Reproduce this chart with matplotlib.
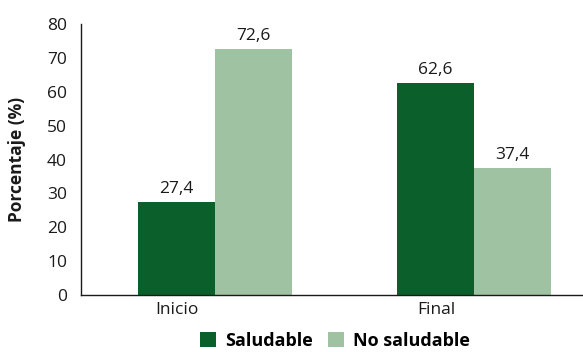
import matplotlib
matplotlib.use("Agg")
import matplotlib.pyplot as plt
import matplotlib.transforms as mtransforms
import numpy as np

categories = ["Inicio", "Final"]
series_names = ["Saludable", "No saludable"]
saludable = [27.4, 62.6]
no_saludable = [72.6, 37.4]
colors = ["#0a5f2a", "#9fc2a2"]

plt.rcParams['font.family'] = ['Open Sans', 'DejaVu Sans']

fig = plt.figure(figsize=(5.83, 3.52), dpi=100)
ax = fig.add_axes([81/583, 1-295/352, (583-81)/583, (295-24)/352])

x = np.arange(len(categories))
w = 0.297
b1 = ax.bar(x - w/2, saludable, w, color=colors[0], label=series_names[0])
b2 = ax.bar(x + w/2, no_saludable, w, color=colors[1], label=series_names[1])

for bars, vals in ((b1, saludable), (b2, no_saludable)):
    for r, v in zip(bars, vals):
        ax.text(r.get_x() + r.get_width()/2, v + 1.6, f"{v:.1f}".replace(".", ","),
                ha="center", va="bottom", fontsize=12.5, color="#1a1a1a")

ax.set_xlim(-0.517, 1.42)
ax.set_ylim(0, 80)
ax.set_yticks(range(0, 81, 10))
ax.set_xticks(x)
ax.set_xticklabels(categories)
ax.tick_params(axis="both", length=0, labelsize=12.5, colors="#1a1a1a")
ax.tick_params(axis="y", pad=10)
ax.tick_params(axis="x", pad=5)
offset = mtransforms.ScaledTranslation(-0.38, 0, fig.dpi_scale_trans)
for lbl in ax.get_xticklabels():
    lbl.set_transform(lbl.get_transform() + offset)
for s in ["top", "right"]:
    ax.spines[s].set_visible(False)
for s in ["left", "bottom"]:
    ax.spines[s].set_color("#1a1a1a")
    ax.spines[s].set_linewidth(1.0)
ax.set_ylabel("Porcentaje (%)", fontsize=12.5, fontweight="bold", labelpad=15, color="#1a1a1a")

leg = fig.legend(handles=[b1, b2], labels=series_names, loc="lower center",
                 bbox_to_anchor=(335/583, -0.04), ncol=2, frameon=False,
                 handlelength=0.9, handleheight=0.9, handletextpad=0.5, columnspacing=0.8,
                 prop={"weight": "bold", "size": 13})

fig.savefig("out.png", dpi=100)
